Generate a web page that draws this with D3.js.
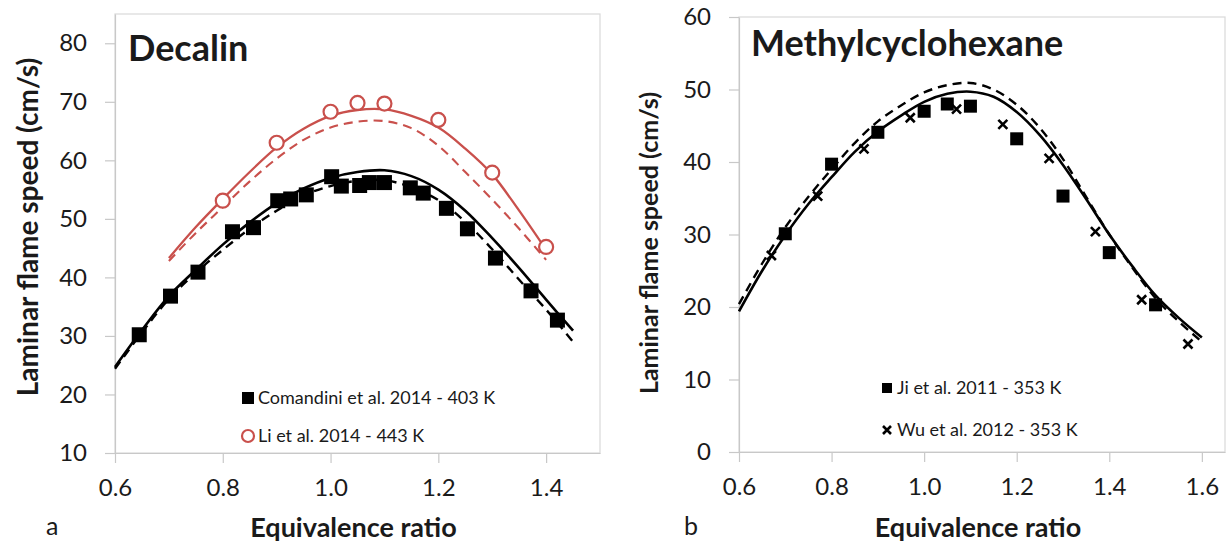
<!DOCTYPE html>
<html>
<head>
<meta charset="utf-8">
<script src="https://cdn.jsdelivr.net/npm/d3@7"></script>
<style>
  body { margin: 0; background: #fff; }
  text { font-family: Lato, "Open Sans", sans-serif; fill: #1a1a1a; }
</style>
</head>
<body>
<svg id="chart" width="1226" height="543"></svg>
<script>
// ---- Decalin (panel a) ----
const decModelPhi = [0.60, 0.65, 0.70, 0.75, 0.80, 0.85, 0.90, 0.95, 1.00, 1.05, 1.10, 1.15, 1.20, 1.25, 1.30, 1.35, 1.40, 1.45];
const decComSolid = [24.7, 31.0, 36.8, 41.3, 45.6, 49.4, 52.7, 55.2, 57.0, 58.0, 58.3, 57.3, 55.0, 51.4, 46.7, 41.6, 36.2, 30.9];
const decComDash  = [24.4, 30.6, 36.3, 40.8, 44.7, 48.3, 51.4, 54.0, 55.6, 56.5, 56.6, 55.4, 53.2, 49.5, 44.8, 39.6, 34.5, 29.0];
const decLiPhi    = [0.70, 0.75, 0.80, 0.85, 0.90, 0.95, 1.00, 1.05, 1.10, 1.15, 1.20, 1.25, 1.30, 1.35, 1.40];
const decLiSolid  = [43.3, 48.6, 53.4, 58.0, 62.2, 65.4, 67.6, 68.6, 68.7, 67.6, 65.6, 62.0, 57.6, 51.4, 44.7];
const decLiDash   = [42.8, 47.6, 52.0, 56.4, 60.3, 63.5, 65.6, 66.6, 66.7, 65.5, 62.5, 58.0, 53.3, 48.3, 43.0];

const comPhi   = [0.645, 0.703, 0.754, 0.818, 0.857, 0.902, 0.926, 0.955, 1.002, 1.02, 1.054, 1.072, 1.10, 1.148, 1.172, 1.215, 1.254, 1.306, 1.372, 1.421];
const comSpeed = [30.2, 36.8, 40.9, 47.8, 48.5, 53.1, 53.4, 54.1, 57.2, 55.6, 55.7, 56.2, 56.2, 55.3, 54.4, 51.8, 48.3, 43.3, 37.7, 32.7];
const liPhi    = [0.80, 0.90, 1.00, 1.05, 1.10, 1.20, 1.30, 1.40];
const liSpeed  = [53.1, 63.0, 68.3, 69.8, 69.7, 66.9, 57.9, 45.2];

const decXTicks = [0.6, 0.8, 1.0, 1.2, 1.4];
const decYTicks = [10, 20, 30, 40, 50, 60, 70, 80];

// ---- Methylcyclohexane (panel b) ----
const mchModelPhi = [0.60, 0.65, 0.70, 0.75, 0.80, 0.85, 0.90, 0.95, 1.00, 1.05, 1.10, 1.15, 1.20, 1.25, 1.30, 1.35, 1.40, 1.45, 1.50, 1.55, 1.60];
const mchSolid    = [19.4, 25.0, 29.9, 34.2, 37.9, 41.4, 44.2, 46.4, 48.3, 49.4, 49.7, 49.0, 46.9, 43.7, 39.6, 34.9, 30.0, 25.6, 21.6, 18.5, 15.8];
const mchDash     = [20.4, 26.0, 31.0, 35.2, 39.0, 42.6, 45.6, 47.8, 49.6, 50.6, 50.9, 50.0, 47.9, 44.7, 40.4, 35.2, 30.0, 25.4, 21.2, 18.0, 15.2];

const jiPhi   = [0.70, 0.80, 0.90, 1.00, 1.05, 1.10, 1.20, 1.30, 1.40, 1.50];
const jiSpeed = [30.1, 39.7, 44.1, 47.0, 48.0, 47.7, 43.2, 35.3, 27.5, 20.3];
const wuPhi   = [0.67, 0.77, 0.87, 0.97, 1.07, 1.17, 1.27, 1.37, 1.47, 1.57];
const wuSpeed = [27.1, 35.3, 41.8, 46.1, 47.3, 45.2, 40.5, 30.4, 21.0, 14.9];

const mchXTicks = [0.6, 0.8, 1.0, 1.2, 1.4, 1.6];
const mchYTicks = [0, 10, 20, 30, 40, 50, 60];

const red = "#c9504c";
const zip = (xs, ys) => xs.map((x, i) => [x, ys[i]]);

const svg = d3.select("#chart");

function drawPanel(p) {
  const x = d3.scaleLinear().domain(p.xDomain).range([p.left, p.right]);
  const y = d3.scaleLinear().domain(p.yDomain).range([p.bottom, p.top]);
  const g = svg.append("g");

  // plot area border
  g.append("rect")
    .attr("x", p.left).attr("y", p.top)
    .attr("width", p.right - p.left).attr("height", p.bottom - p.top)
    .attr("fill", "none").attr("stroke", "#d9d9d9").attr("stroke-width", 1.2);

  const yAxis = g.append("g")
    .attr("transform", `translate(${p.left},0)`)
    .call(d3.axisLeft(y).tickValues(p.yTicks).tickSize(10).tickSizeOuter(0).tickPadding(p.yPad).tickFormat(d3.format("d")));
  const xAxis = g.append("g")
    .attr("transform", `translate(0,${p.bottom})`)
    .call(d3.axisBottom(x).tickValues(p.xTicks).tickSize(10).tickSizeOuter(0).tickPadding(16).tickFormat(d3.format(".1f")));
  [xAxis, yAxis].forEach(a => {
    a.select(".domain").attr("stroke", "#c8c8c8").attr("stroke-width", 1.2);
    a.selectAll(".tick line").attr("stroke", "#c8c8c8").attr("stroke-width", 1.2);
    a.selectAll(".tick text").style("font-family", "Lato, sans-serif").style("font-size", "24px").attr("fill", "#1a1a1a");
  });

  const line = d3.line().x(d => x(d[0])).y(d => y(d[1])).curve(d3.curveCatmullRom.alpha(0.5));
  p.lines.forEach(l => {
    g.append("path").datum(l.data).attr("d", line)
      .attr("fill", "none").attr("stroke", l.color).attr("stroke-width", l.width)
      .attr("stroke-dasharray", l.dash || null);
  });

  p.points.forEach(s => {
    const sel = g.append("g").selectAll("g").data(s.data).join("g")
      .attr("transform", d => `translate(${x(d[0])},${y(d[1])})`);
    drawMarker(sel, s.marker, s.size);
  });

  // title
  g.append("text").attr("x", p.titleX).attr("y", p.titleY)
    .style("font-size", p.titleSize + "px").style("font-weight", "bold").text(p.title);

  // axis titles
  g.append("text")
    .attr("transform", `translate(${p.yTitleX},${p.yTitleY}) rotate(-90)`)
    .attr("text-anchor", "middle")
    .style("font-size", p.yTitleSize + "px").style("font-weight", "bold")
    .text("Laminar flame speed (cm/s)");
  g.append("text")
    .attr("x", (p.left + p.right) / 2 - 4).attr("y", 537)
    .attr("text-anchor", "middle")
    .style("font-size", "27px").style("font-weight", "bold")
    .text("Equivalence ratio");
  g.append("text").attr("x", p.letterX).attr("y", 535)
    .style("font-size", "25px").text(p.letter);

  // legend
  p.legend.forEach((l, i) => {
    const ly = p.legendY[i];
    const m = g.append("g").attr("transform", `translate(${p.legendX},${ly})`);
    drawMarker(m, l.marker, l.size);
    g.append("text").attr("x", p.legendX + 10).attr("y", ly).attr("dy", "0.36em")
      .style("font-size", "18px").text(l.label);
  });
}

function drawMarker(sel, type, size) {
  if (type === "square") {
    sel.append("rect").attr("x", -size / 2).attr("y", -size / 2)
      .attr("width", size).attr("height", size).attr("fill", "#000");
  } else if (type === "circle") {
    sel.append("circle").attr("r", size / 2).attr("fill", "#fff")
      .attr("stroke", red).attr("stroke-width", 2.2);
  } else if (type === "cross") {
    const h = size / 2;
    sel.append("path").attr("d", `M${-h},${-h}L${h},${h}M${-h},${h}L${h},${-h}`)
      .attr("stroke", "#000").attr("stroke-width", 2.6).attr("fill", "none");
  }
}

drawPanel({
  left: 115, right: 600, top: 14, bottom: 453,
  xDomain: [0.6, 1.5], yDomain: [10, 85],
  xTicks: decXTicks, yTicks: decYTicks, yPad: 18,
  title: "Decalin", titleX: 128, titleY: 61, titleSize: 36,
  yTitleX: 38, yTitleY: 227, yTitleSize: 28,
  letter: "a", letterX: 46,
  lines: [
    { data: zip(decModelPhi, decComSolid), color: "#000", width: 2.6 },
    { data: zip(decModelPhi, decComDash), color: "#000", width: 2.4, dash: "9,6" },
    { data: zip(decLiPhi, decLiSolid), color: red, width: 2.3 },
    { data: zip(decLiPhi, decLiDash), color: red, width: 2.1, dash: "9,6" }
  ],
  points: [
    { data: zip(comPhi, comSpeed), marker: "square", size: 15 },
    { data: zip(liPhi, liSpeed), marker: "circle", size: 14 }
  ],
  legendX: 248, legendY: [398, 436],
  legend: [
    { marker: "square", size: 12, label: "Comandini et al. 2014 - 403 K" },
    { marker: "circle", size: 12, label: "Li et al. 2014 - 443 K" }
  ]
});

drawPanel({
  left: 739, right: 1225, top: 17, bottom: 452,
  xDomain: [0.6, 1.65], yDomain: [0, 60],
  xTicks: mchXTicks, yTicks: mchYTicks, yPad: 18,
  title: "Methylcyclohexane", titleX: 751, titleY: 56, titleSize: 36,
  yTitleX: 658, yTitleY: 243, yTitleSize: 25,
  letter: "b", letterX: 684,
  lines: [
    { data: zip(mchModelPhi, mchSolid), color: "#000", width: 2.6 },
    { data: zip(mchModelPhi, mchDash), color: "#000", width: 2.4, dash: "9,6" }
  ],
  points: [
    { data: zip(jiPhi, jiSpeed), marker: "square", size: 13 },
    { data: zip(wuPhi, wuSpeed), marker: "cross", size: 9 }
  ],
  legendX: 887, legendY: [388, 430],
  legend: [
    { marker: "square", size: 10, label: "Ji et al. 2011 - 353 K" },
    { marker: "cross", size: 8, label: "Wu et al. 2012 - 353 K" }
  ]
});
</script>
</body>
</html>
